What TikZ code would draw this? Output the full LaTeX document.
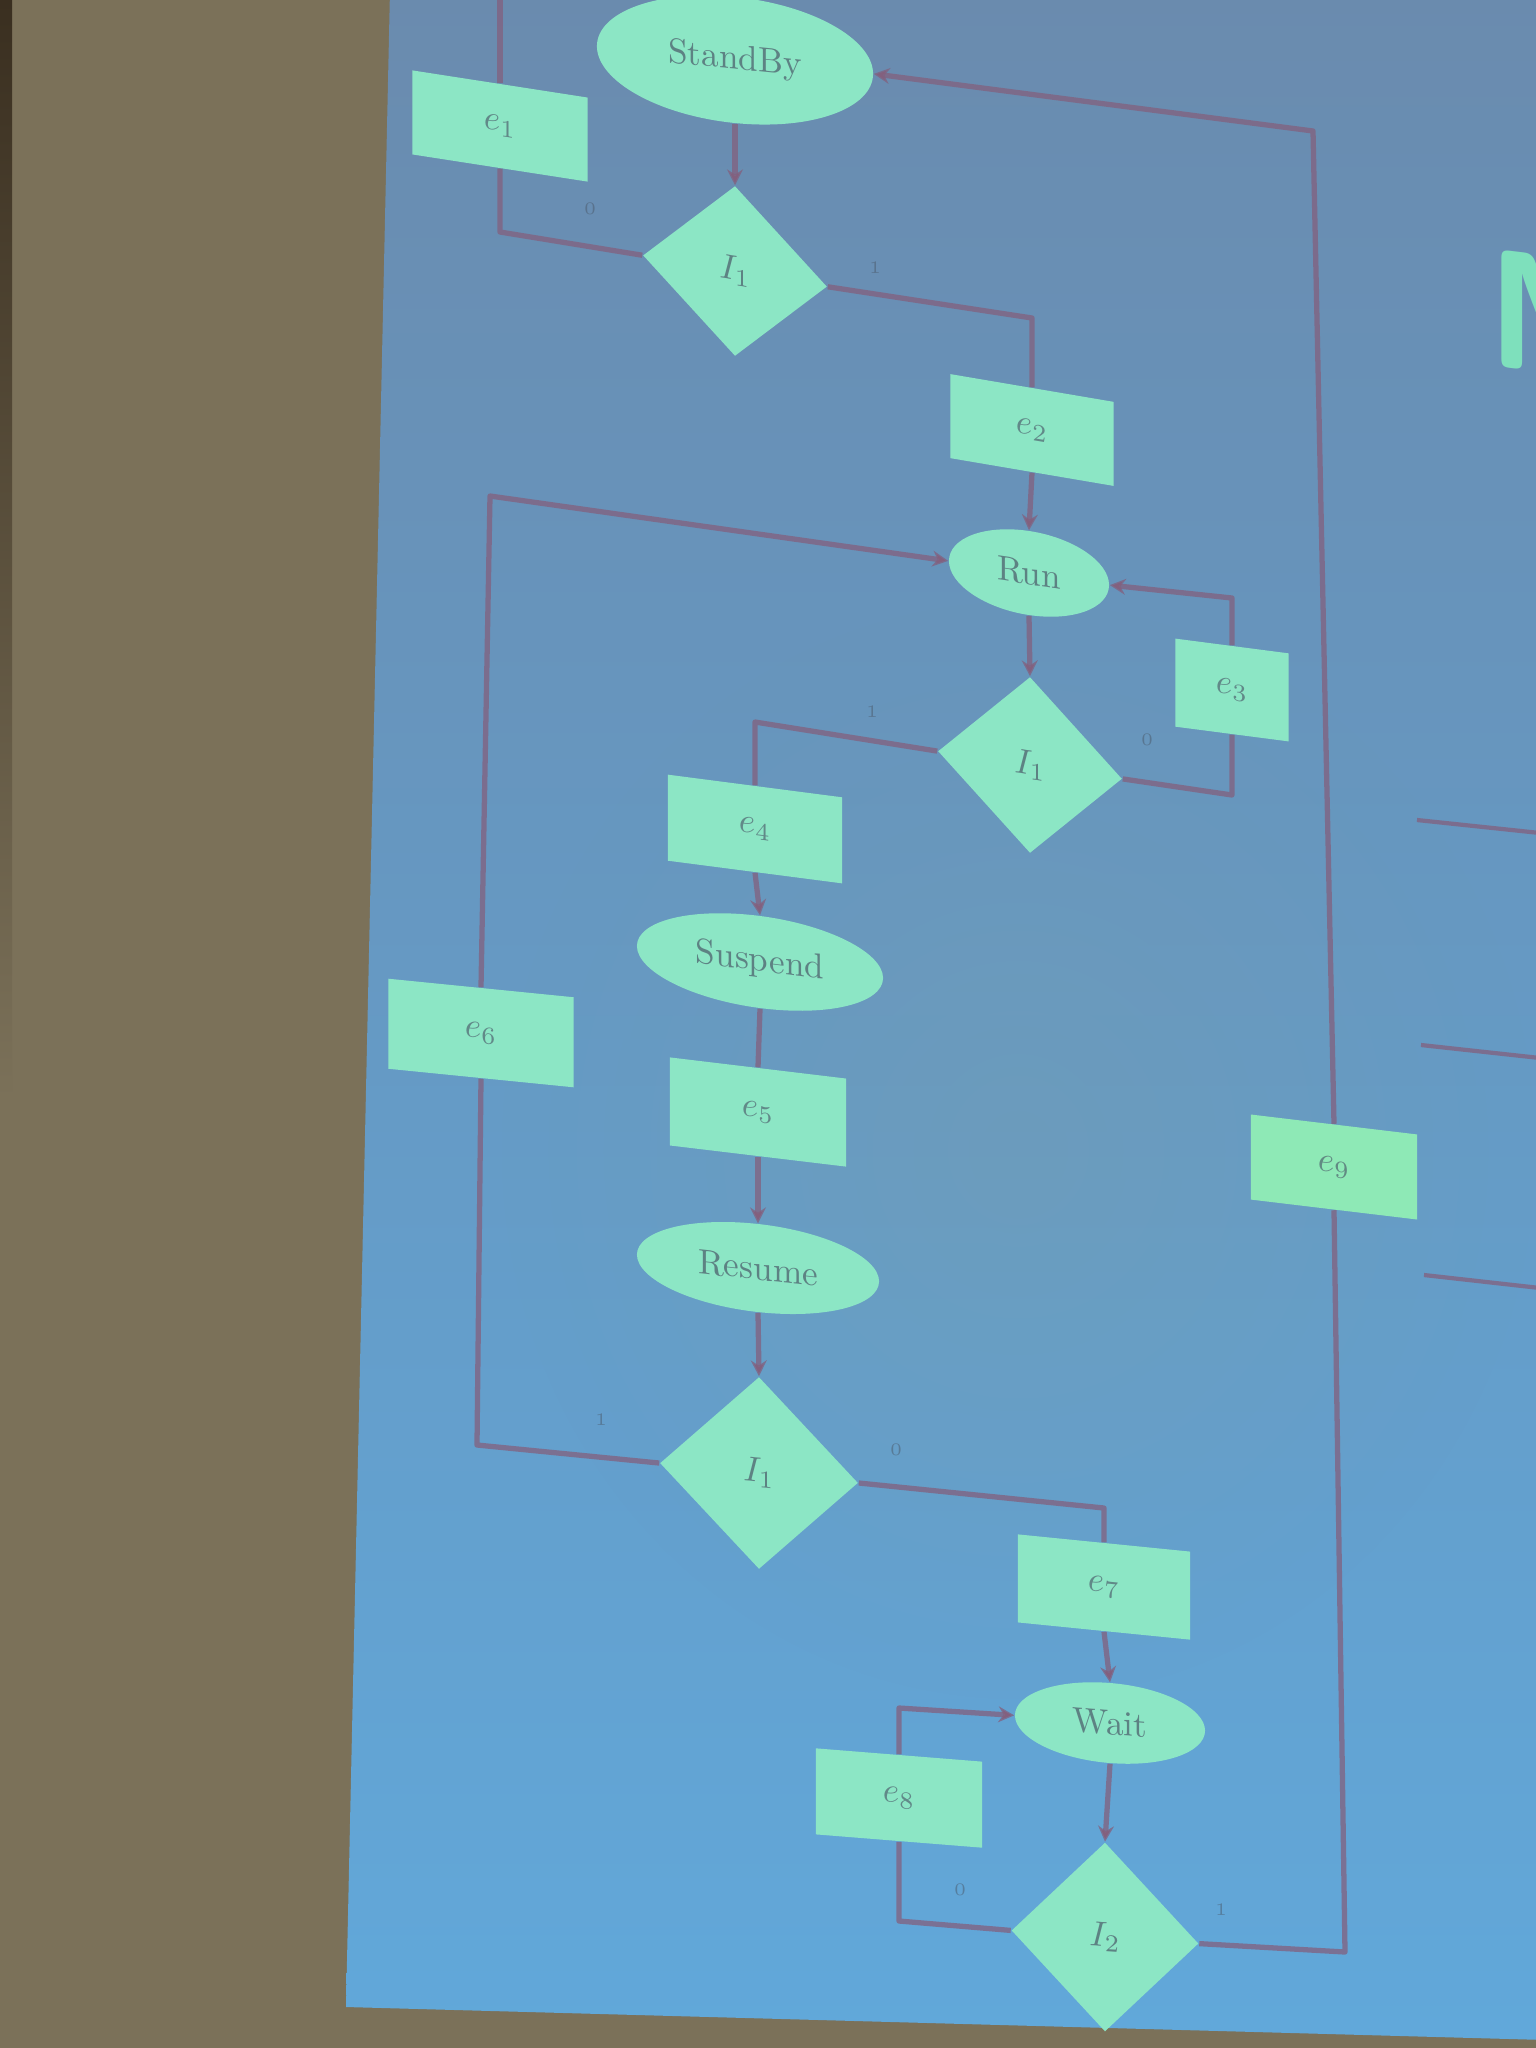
\documentclass[tikz,border=0pt]{standalone}
\usetikzlibrary{shapes.geometric,arrows.meta,fadings}

\pgfdeclarelayer{bg}
\pgfdeclarelayer{wires}
\pgfsetlayers{bg,wires,main}

\definecolor{wall}{HTML}{7B7159}
\definecolor{walldark}{HTML}{3A2F20}
\definecolor{slidetop}{HTML}{6A8BAE}
\definecolor{slidebot}{HTML}{61A8DA}
\definecolor{tint}{HTML}{7C9EA6}
\definecolor{mint}{HTML}{8CE6C5}
\definecolor{mintb}{HTML}{8EE9B6}
\definecolor{wire}{HTML}{83607E}
\definecolor{ink}{HTML}{4A5868}
\definecolor{titlegreen}{HTML}{7EE0BC}

\tikzfading[name=softspot, inner color=transparent!0, outer color=transparent!100]

\tikzset{
  state/.style={ellipse, fill=mint, inner sep=0pt, text=ink, text opacity=0.7},
  act/.style={rectangle, fill=mint, inner sep=0pt, text=ink, text opacity=0.65},
  test/.style={diamond, fill=mint, inner sep=0pt, text=ink, text opacity=0.7},
  wire/.style={draw=wire, line width=1.5pt, line join=round, draw opacity=0.75},
  arr/.style={wire, -{Stealth[length=4.5pt,width=4.5pt]}},
  flag/.style={text=ink, font=\tiny, text opacity=0.5, inner sep=0pt},
}

\begin{document}
\begin{tikzpicture}[x=0.01cm, y=-0.01cm]
\useasboundingbox (0,0) rectangle (1536,2048);
\clip (0,0) rectangle (1536,2048);

% ---------- wall, screen and the edge of the next diagram ----------
\begin{pgfonlayer}{bg}
  \fill[wall] (0,0) rectangle (1536,2048);
  \shade[top color=walldark, bottom color=wall] (0,0) rectangle (12,1100);
  \shade[top color=slidetop, bottom color=slidebot]
    (390,-10) -- (346,2007) -- (1546,2040) -- (1546,-10) -- cycle;
  \fill[tint, opacity=0.3, path fading=softspot] (500,600) rectangle (1536,1700);
  % cut-off title letter
  \node[anchor=south west, inner sep=0pt, text=titlegreen, yslant=-0.12,
        font=\fontsize{48}{48}\selectfont\sffamily\bfseries] (title) at (1486,366) {M};
  % cut-off rules of the neighbouring diagram
  \coordinate (r1a) at (1417,820);  \coordinate (r1b) at (1540,833);
  \coordinate (r2a) at (1421,1045); \coordinate (r2b) at (1540,1058);
  \coordinate (r3a) at (1424,1275); \coordinate (r3b) at (1540,1288);
  \draw[wire, line width=1.2pt] (r1a) -- (r1b);
  \draw[wire, line width=1.2pt] (r2a) -- (r2b);
  \draw[wire, line width=1.2pt] (r3a) -- (r3b);
\end{pgfonlayer}

% ---------- states, actions and tests ----------
\node[state, minimum width=2.76cm, minimum height=1.26cm, yslant=-0.1] (standby) at (735,60) {StandBy};
\node[act, minimum width=1.75cm, minimum height=0.84cm, yslant=-0.155] (e1) at (500,126) {$e_1$};
\node[test, minimum width=1.84cm, minimum height=1.70cm, yslant=-0.17] (i1) at (735,271) {$I_1$};
\node[act, minimum width=1.63cm, minimum height=0.84cm, yslant=-0.17] (e2) at (1032,430) {$e_2$};
\node[state, minimum width=1.60cm, minimum height=0.84cm, yslant=-0.15] (run) at (1029,573) {Run};
\node[test, minimum width=1.84cm, minimum height=1.76cm, yslant=-0.15] (i2) at (1030,765) {$I_1$};
\node[act, minimum width=1.13cm, minimum height=0.88cm, yslant=-0.13] (e3) at (1232,690) {$e_3$};
\node[act, minimum width=1.74cm, minimum height=0.86cm, yslant=-0.13] (e4) at (755,829) {$e_4$};
\node[state, minimum width=2.46cm, minimum height=0.92cm, yslant=-0.13] (suspend) at (760,962) {Suspend};
\node[act, minimum width=1.76cm, minimum height=0.88cm, yslant=-0.12] (e5) at (758,1112) {$e_5$};
\node[state, minimum width=2.42cm, minimum height=0.88cm, yslant=-0.11] (resume) at (758,1268) {Resume};
\node[test, minimum width=1.98cm, minimum height=1.92cm, yslant=-0.1] (i3) at (759,1473) {$I_1$};
\node[act, minimum width=1.85cm, minimum height=0.90cm, yslant=-0.1] (e6) at (481,1033) {$e_6$};
\node[act, minimum width=1.72cm, minimum height=0.88cm, yslant=-0.1] (e7) at (1104,1587) {$e_7$};
\node[state, minimum width=1.90cm, minimum height=0.80cm, yslant=-0.08] (wait) at (1110,1723) {Wait};
\node[act, minimum width=1.66cm, minimum height=0.86cm, yslant=-0.08] (e8) at (899,1798) {$e_8$};
\node[test, minimum width=1.87cm, minimum height=1.89cm, yslant=-0.07] (i4) at (1105,1937) {$I_2$};
\node[act, fill=mintb, minimum width=1.66cm, minimum height=0.85cm, yslant=-0.12] (e9) at (1334,1167) {$e_9$};

% ---------- bends of the connectors ----------
\coordinate (c0)  at (500,-40);
\coordinate (c1)  at (500,232);
\coordinate (c2)  at (1032,318);
\coordinate (c3)  at (1232,795);
\coordinate (c4)  at (1232,598);
\coordinate (c5)  at (755,722);
\coordinate (c6)  at (477,1445);
\coordinate (c7)  at (490,496);
\coordinate (c8)  at (1104,1508);
\coordinate (c9)  at (899,1921);
\coordinate (c10) at (899,1708);
\coordinate (c11) at (1345,1952);
\coordinate (c12) at (1313,131);

% ---------- connectors ----------
\begin{pgfonlayer}{wires}
  \draw[arr] (standby.south) -- (i1.north);
  \draw[wire] (i1.west) -- (c1) -- (e1.south);
  \draw[wire] (e1.north) -- (c0);
  \draw[wire] (i1.east) -- (c2) -- (e2.north);
  \draw[arr] (e2.south) -- (run.north);
  \draw[arr] (run.south) -- (i2.north);
  \draw[wire] (i2.east) -- (c3) -- (e3.south);
  \draw[arr] (e3.north) -- (c4) -- (run.east);
  \draw[wire] (i2.west) -- (c5) -- (e4.north);
  \draw[arr] (e4.south) -- (suspend.north);
  \draw[wire] (suspend.south) -- (e5.north);
  \draw[arr] (e5.south) -- (resume.north);
  \draw[arr] (resume.south) -- (i3.north);
  \draw[wire] (i3.west) -- (c6) -- (e6.south);
  \draw[arr] (e6.north) -- (c7) -- (run.west);
  \draw[wire] (i3.east) -- (c8) -- (e7.north);
  \draw[arr] (e7.south) -- (wait.north);
  \draw[arr] (wait.south) -- (i4.north);
  \draw[wire] (i4.west) -- (c9) -- (e8.south);
  \draw[arr] (e8.north) -- (c10) -- (wait.west);
  \draw[wire] (i4.east) -- (c11) -- (e9.south);
  \draw[arr] (e9.north) -- (c12) -- (standby.east);
\end{pgfonlayer}

% ---------- branch values ----------
\node[flag] (f1) at (590,209)  {0};
\node[flag] (f2) at (875,268)  {1};
\node[flag] (f3) at (872,712)  {1};
\node[flag] (f4) at (1147,740) {0};
\node[flag] (f5) at (601,1420) {1};
\node[flag] (f6) at (896,1450) {0};
\node[flag] (f7) at (960,1890) {0};
\node[flag] (f8) at (1221,1910) {1};
\end{tikzpicture}
\end{document}
